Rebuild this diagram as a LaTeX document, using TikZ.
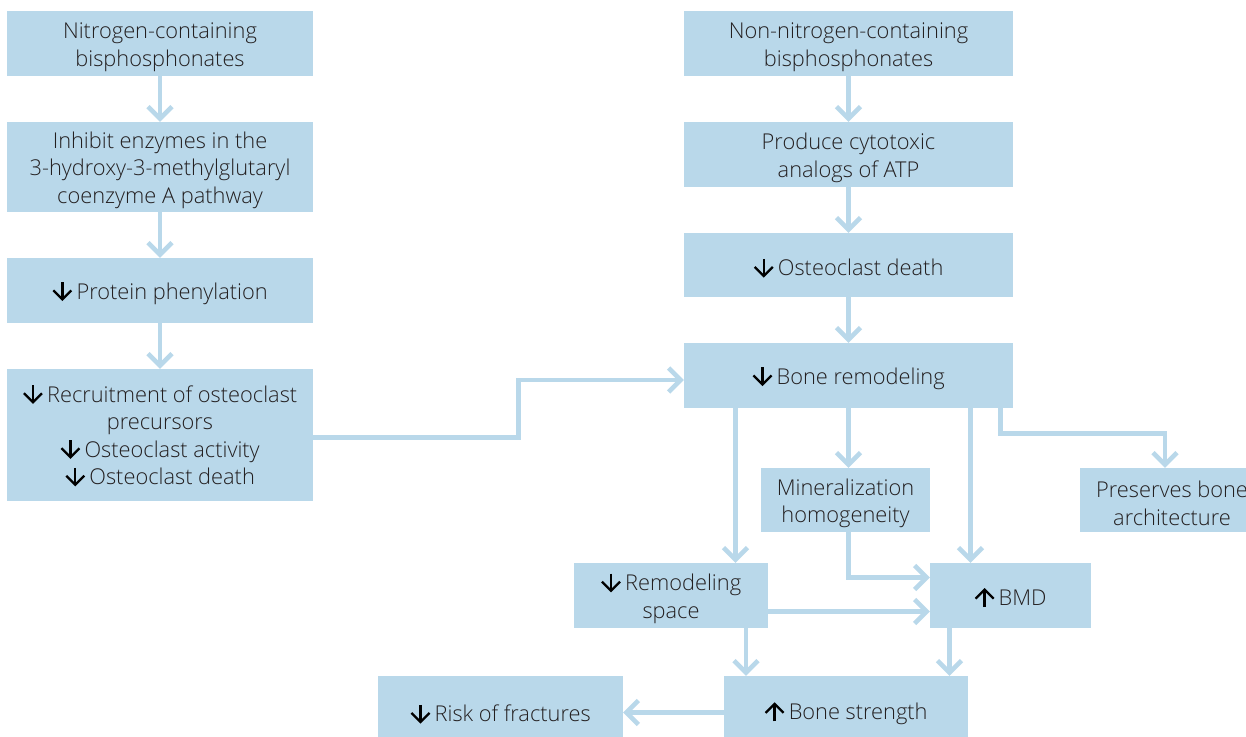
\documentclass[tikz,border=0pt]{standalone}
\usepackage{fontspec}
\setmainfont{Open Sans}[UprightFont={* Light}]
\usetikzlibrary{arrows.meta}
\definecolor{boxblue}{HTML}{B9D8EA}
\definecolor{textgray}{HTML}{231F20}
% small black arrows used inside the labels
\newcommand{\dnar}{\tikz[x=1pt,y=1pt,baseline=0pt,line width=2.3pt,black,line join=miter]{%
  \draw (0,17)--(0,1.5); \draw (-9,9)--(0,0)--(9,9);}\hspace{4pt}}
\newcommand{\upar}{\tikz[x=1pt,y=1pt,baseline=0pt,line width=2.3pt,black,line join=miter]{%
  \draw (0,-1.5)--(0,14.5); \draw (-9,7)--(0,16)--(9,7);}\hspace{4pt}}
% taller first line, so that labels sit a little below the box centre
\newcommand{\tp}{\rule{0pt}{23pt}}
\begin{document}
\begin{tikzpicture}[x=1pt,y=-1pt,
  box/.style={fill=boxblue,inner sep=0pt,align=center,text=textgray,
    font=\fontsize{21.8}{27.5}\selectfont},
  conn/.style={draw=boxblue,line width=4.6pt,
    -{Straight Barb[length=12pt,width=24pt]}},
  ]
\useasboundingbox (0,0) rectangle (1246,736);
% left column
\node[box,minimum width=306pt,minimum height=65pt] (a) at (160,43.5) {\tp Nitrogen-containing\\bisphosphonates};
\node[box,minimum width=306pt,minimum height=90pt] (b) at (160,167) {\tp Inhibit enzymes in the\\3-hydroxy-3-methylglutaryl\\coenzyme A pathway};
\node[box,minimum width=306pt,minimum height=65pt] (c) at (160,290.5) {\tp\dnar Protein phenylation};
\node[box,minimum width=306pt,minimum height=132pt] (d) at (160,435) {\dnar Recruitment of osteoclast\\precursors\\\dnar Osteoclast activity\\\dnar Osteoclast death};
% right column
\node[box,minimum width=329pt,minimum height=65pt] (e) at (848.5,43.5) {\tp Non-nitrogen-containing\\bisphosphonates};
\node[box,minimum width=329pt,minimum height=65pt] (f) at (848.5,154.5) {\tp Produce cytotoxic\\analogs of ATP};
\node[box,minimum width=329pt,minimum height=64pt] (g) at (848.5,265) {\tp\dnar Osteoclast death};
\node[box,minimum width=329pt,minimum height=65pt] (h) at (848.5,375.5) {\tp\dnar Bone remodeling};
% effects
\node[box,minimum width=169pt,minimum height=64pt] (min) at (845.5,500) {\tp Mineralization\\homogeneity};
\node[box,minimum width=184pt,minimum height=64pt] (pres) at (1172,500) {\tp Preserves bone\\architecture};
\node[box,minimum width=194pt,minimum height=65pt] (rs) at (671,595.5) {\tp\dnar Remodeling\\space};
\node[box,minimum width=161pt,minimum height=65pt] (bmd) at (1010.5,595.5) {\tp\upar BMD};
\node[box,minimum width=244pt,minimum height=70pt] (bs) at (846,711) {\tp\upar Bone strength};
\node[box,minimum width=245pt,minimum height=70pt] (risk) at (500.5,711) {\tp\dnar Risk of fractures};
% connectors
\draw[conn] (a.south) -- (b.north);
\draw[conn] (b.south) -- (c.north);
\draw[conn] (c.south) -- (d.north);
\draw[conn] (e.south) -- (f.north);
\draw[conn] (f.south) -- (g.north);
\draw[conn] (g.south) -- (h.north);
\draw[conn] ([yshift=-2.5pt]d.east) -- ++(205,0) |- ([yshift=-4.5pt]h.west);
\draw[conn] ([xshift=-113pt]h.south) -- ([xshift=-113pt]h.south |- rs.north);
\draw[conn] (h.south) -- (h.south |- min.north);
\draw[conn] ([xshift=122pt]h.south) -- ([xshift=122pt]h.south |- bmd.north);
\draw[conn] ([xshift=152pt]h.south) -- ++(0,25) -| ([xshift=-7pt]pres.north);
\draw[conn] ([xshift=3pt]min.south) |- ([yshift=18pt]bmd.west);
\draw[conn] ([yshift=-16pt]rs.east) -- ([yshift=-16pt]bmd.west);
\draw[conn] ([xshift=75pt]rs.south) -- ([xshift=75pt]rs.south |- bs.north);
\draw[conn] ([xshift=-61pt]bmd.south) -- ([xshift=-61pt]bmd.south |- bs.north);
\draw[conn] ([yshift=-1.5pt]bs.west) -- ([yshift=-1.5pt]risk.east);
\end{tikzpicture}
\end{document}
